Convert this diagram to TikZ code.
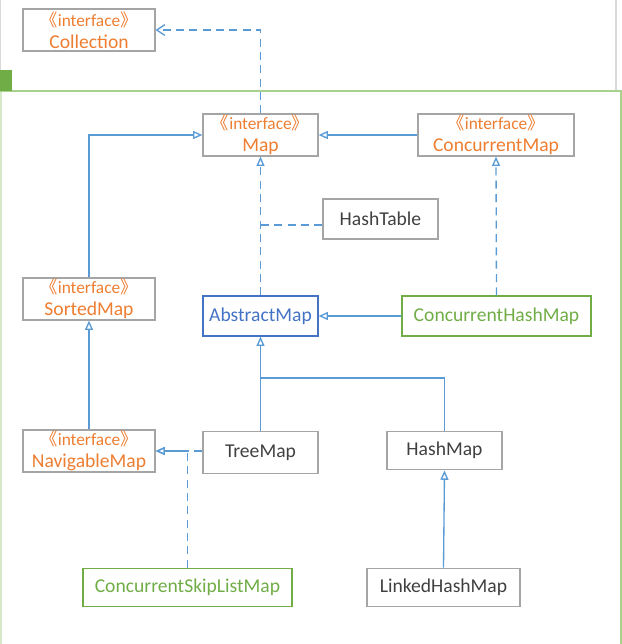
\documentclass[tikz,border=0pt]{standalone}
\usepackage{fontspec}
\setmainfont{Carlito}
\newfontfamily\cjk{Noto Sans CJK SC}
\usetikzlibrary{arrows.meta}

\definecolor{ifcorange}{HTML}{ED7D31}
\definecolor{boxgray}{HTML}{A5A5A5}
\definecolor{textgray}{HTML}{404040}
\definecolor{linkblue}{HTML}{5B9BD5}
\definecolor{absblue}{HTML}{4472C4}
\definecolor{implgreen}{HTML}{70AD47}
\definecolor{framegreen}{HTML}{A9D18E}
\definecolor{framelight}{HTML}{D5E8C8}
\definecolor{edgegray}{HTML}{D9D9D9}

\newcommand{\ifaceline}{{\fontsize{13}{15}\selectfont{\cjk 《}interface{\cjk 》}}}

\tikzset{
  box/.style={draw=boxgray, line width=0.9pt, inner sep=0pt, align=center,
    font=\fontsize{14.7}{16.8}\selectfont, text=textgray, minimum height=30pt},
  ifbox/.style={box, text=ifcorange, minimum height=31.5pt},
  absbox/.style={box, draw=absblue, text=absblue},
  implbox/.style={box, draw=implgreen, text=implgreen},
  wd/.style={minimum width=#1*0.75pt},
  link/.style={draw=linkblue, line width=1pt},
  inherit/.style={link, -{Triangle[open, length=7pt, width=6pt]}},
  realize/.style={inherit, dash pattern=on 6pt off 4pt},
  realizeline/.style={link, dash pattern=on 6pt off 4pt},
  depend/.style={link, dash pattern=on 6pt off 4pt, -{Straight Barb[length=6pt, width=8pt]}}
}

\begin{document}
\begin{tikzpicture}[x=0.75pt, y=-0.75pt]
  % --- FIXED FRAME ---
  \useasboundingbox (0,0) rectangle (622,644);
  \draw[edgegray, line width=0.8pt] (616,0) -- (616,91);
  \draw[edgegray, line width=0.8pt] (0.5,0) -- (0.5,70);
  \draw[framelight, line width=1.2pt] (1,91) -- (1,644);
  \draw[framegreen, line width=1.2pt] (0,91) -- (621,91) -- (621,644);
  \fill[implgreen] (0,70) rectangle (12,91);

  % --- INTERFACES ---
  \node[ifbox, wd=132] (Collection) at (89,30) {\ifaceline\\Collection};
  \node[ifbox, wd=115] (Map) at (260.5,135) {\ifaceline\\Map};
  \node[ifbox, wd=156] (ConcMap) at (496,135) {\ifaceline\\ConcurrentMap};
  \node[ifbox, wd=132] (SortedMap) at (89,299) {\ifaceline\\SortedMap};
  \node[ifbox, wd=132] (NavMap) at (89,451) {\ifaceline\\NavigableMap};

  % --- CLASSES ---
  \node[box, wd=115] (HashTable) at (380.5,219) {HashTable};
  \node[absbox, wd=115] (AbstractMap) at (260.5,316) {AbstractMap};
  \node[implbox, wd=189] (ConcHashMap) at (496.5,316) {ConcurrentHashMap};
  \node[box, wd=115, minimum height=32pt] (TreeMap) at (260.5,452.5) {TreeMap};
  \node[box, wd=115, minimum height=29pt] (HashMap) at (444.5,450.5) {HashMap};
  \node[implbox, wd=209, minimum height=29pt] (CSLMap) at (187.5,587.5) {ConcurrentSkipListMap};
  \node[box, wd=153, minimum height=29pt] (LinkedHashMap) at (443.5,587.5) {LinkedHashMap};

  % --- CONNECTORS ---
  \draw[depend] (Map.north) |- (Collection.east);
  \draw[inherit] (SortedMap.north) |- (Map.west);
  \draw[inherit] (ConcMap.west) -- (Map.east);
  \draw[realize] (AbstractMap.north) -- (Map.south);
  \coordinate (htEnd) at ([yshift=-4.5pt]HashTable.west);
  \draw[realizeline] (htEnd) -- (htEnd -| Map.south);
  \draw[realize] (ConcHashMap.north) -- (ConcMap.south);
  \draw[inherit] (ConcHashMap.west) -- (AbstractMap.east);
  \draw[inherit] (NavMap.north) -- (SortedMap.south);
  \draw[inherit] (TreeMap.north) -- (AbstractMap.south);
  \coordinate (hmJoin) at (260.5,378);
  \draw[link] (HashMap.north) |- (hmJoin);
  \draw[realize] (TreeMap.west |- NavMap.east) -- (NavMap.east);
  \draw[realize] (CSLMap.north) |- (NavMap.east);
  \draw[inherit] (LinkedHashMap.north) -- (HashMap.south);
\end{tikzpicture}
\end{document}
